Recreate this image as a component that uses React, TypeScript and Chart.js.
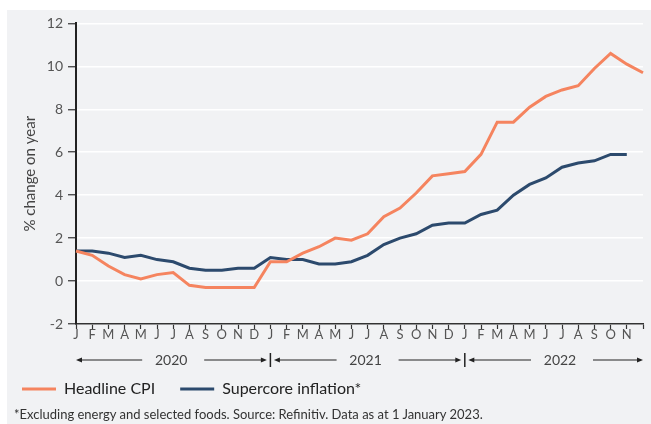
import React, { useEffect, useRef } from "react";
import { Chart, registerables } from "chart.js";

Chart.register(...registerables);

const monthLabels = [
  "J", "F", "M", "A", "M", "J", "J", "A", "S", "O", "N", "D",
  "J", "F", "M", "A", "M", "J", "J", "A", "S", "O", "N", "D",
  "J", "F", "M", "A", "M", "J", "J", "A", "S", "O", "N", "",
];

const yearLabels = ["2020", "2021", "2022"];

const headlineCPI = [
  1.4, 1.2, 0.7, 0.3, 0.1, 0.3, 0.4, -0.2, -0.3, -0.3, -0.3, -0.3,
  0.9, 0.9, 1.3, 1.6, 2.0, 1.9, 2.2, 3.0, 3.4, 4.1, 4.9, 5.0,
  5.1, 5.9, 7.4, 7.4, 8.1, 8.6, 8.9, 9.1, 9.9, 10.6, 10.1, 9.7,
];

const supercore = [
  1.4, 1.4, 1.3, 1.1, 1.2, 1.0, 0.9, 0.6, 0.5, 0.5, 0.6, 0.6,
  1.1, 1.0, 1.0, 0.8, 0.8, 0.9, 1.2, 1.7, 2.0, 2.2, 2.6, 2.7,
  2.7, 3.1, 3.3, 4.0, 4.5, 4.8, 5.3, 5.5, 5.6, 5.9, 5.9, null,
];

const seriesNames = ["Headline CPI", "Supercore inflation*"];
const footnote =
  "*Excluding energy and selected foods. Source: Refinitiv. Data as at 1 January 2023.";

const ORANGE = "#f5845f";
const NAVY = "#2c4a6d";
const FONT = "Lato, 'Noto Sans', sans-serif";

const yearRowPlugin = {
  id: "yearRow",
  afterDraw(chart: any) {
    const { ctx, chartArea } = chart;
    const xs = chart.scales.x;
    const step = xs.getPixelForValue(1) - xs.getPixelForValue(0);
    const y = chartArea.bottom + 36;
    ctx.save();
    ctx.strokeStyle = "#222";
    ctx.fillStyle = "#222";
    ctx.lineWidth = 1;
    const arrow = (tip: number, tail: number) => {
      const dir = tip > tail ? 1 : -1;
      ctx.beginPath();
      ctx.moveTo(tail, y);
      ctx.lineTo(tip - dir * 5, y);
      ctx.stroke();
      ctx.beginPath();
      ctx.moveTo(tip, y);
      ctx.lineTo(tip - dir * 6, y - 2.5);
      ctx.lineTo(tip - dir * 6, y + 2.5);
      ctx.closePath();
      ctx.fill();
    };
    yearLabels.forEach((yr, i) => {
      const start = xs.getPixelForValue(i * 12);
      const next = start + 12 * step;
      const mid = (start + next) / 2;
      const leftTip = start + (i === 0 ? 0 : 3.5);
      const rightTip = Math.min(next - 3.5, chartArea.right);
      arrow(leftTip, mid - 31);
      arrow(rightTip, mid + 31);
      if (i > 0) {
        ctx.save();
        ctx.lineWidth = 1.5;
        ctx.beginPath();
        ctx.moveTo(start, y - 7);
        ctx.lineTo(start, y + 7);
        ctx.stroke();
        ctx.restore();
      }
      ctx.save();
      ctx.fillStyle = "#444";
      ctx.font = `14px ${FONT}`;
      ctx.textAlign = "center";
      ctx.textBaseline = "middle";
      ctx.fillText(yr, mid - 2, y);
      ctx.restore();
    });
    ctx.restore();
  },
};

export default function App() {
  const canvasRef = useRef<HTMLCanvasElement | null>(null);

  useEffect(() => {
    if (!canvasRef.current) return;
    Chart.defaults.font.family = FONT;
    const chart = new Chart(canvasRef.current, {
      type: "line",
      data: {
        labels: monthLabels,
        datasets: [
          {
            label: seriesNames[0],
            data: headlineCPI,
            borderColor: ORANGE,
            backgroundColor: ORANGE,
            borderWidth: 3,
            pointRadius: 0,
            tension: 0,
            fill: false,
          },
          {
            label: seriesNames[1],
            data: supercore,
            borderColor: NAVY,
            backgroundColor: NAVY,
            borderWidth: 3,
            pointRadius: 0,
            tension: 0,
            fill: false,
            spanGaps: false,
          },
        ],
      },
      options: {
        responsive: false,
        animation: false,
        events: [],
        layout: { padding: { top: 11, right: 8, bottom: 0, left: 0 } },
        plugins: {
          tooltip: { enabled: false },
          legend: {
            position: "bottom",
            align: "start",
            labels: {
              boxWidth: 34,
              boxHeight: 3,
              padding: 25,
              color: "#222",
              font: { size: 16 },
              generateLabels: (c: any) =>
                (Chart.defaults.plugins.legend.labels as any)
                  .generateLabels(c)
                  .map((l: any) => ({ ...l, lineWidth: 0 })),
            },
          },
        },
        scales: {
          x: {
            type: "category",
            offset: false,
            grid: {
              display: true,
              drawOnChartArea: false,
              drawTicks: true,
              tickLength: 5,
              tickColor: "#333",
              tickWidth: 1.2,
            },
            border: { display: true, color: "#333", width: 1.5 },
            ticks: {
              autoSkip: false,
              maxRotation: 0,
              minRotation: 0,
              padding: -2,
              color: "#555",
              font: { size: 13 },
            },
            afterFit: (s: any) => {
              s.height = 32;
            },
          },
          y: {
            min: -2,
            max: 12,
            ticks: {
              stepSize: 2,
              color: "#555",
              font: { size: 14 },
              padding: 5,
            },
            grid: {
              color: "#ffffff",
              lineWidth: 1.5,
              tickLength: 8,
              tickColor: "#333",
              tickWidth: 1.2,
            },
            border: { color: "#222", width: 2 },
            title: {
              display: true,
              text: "% change on year",
              color: "#444",
              font: { size: 15 },
              padding: { top: 24, bottom: 0 },
            },
            afterFit: (s: any) => {
              s.width = 79;
            },
          },
        },
      },
      plugins: [yearRowPlugin],
    } as any);
    return () => chart.destroy();
  }, []);

  return (
    <div>
      <div
        style={{
          position: "absolute",
          left: 7,
          top: 10,
          width: 644,
          height: 414,
          background: "#f1f2f4",
        }}
      />
      <div style={{ position: "absolute", left: -3, top: 10, width: 654, height: 397 }}>
        <canvas ref={canvasRef} width={654} height={397} style={{ width: 654, height: 397, display: "block" }} />
      </div>
      <div
        style={{
          position: "absolute",
          left: 14,
          top: 406,
          fontFamily: FONT,
          fontSize: 13,
          lineHeight: "16px",
          color: "#333",
          whiteSpace: "nowrap",
        }}
      >
        {footnote}
      </div>
    </div>
  );
}
